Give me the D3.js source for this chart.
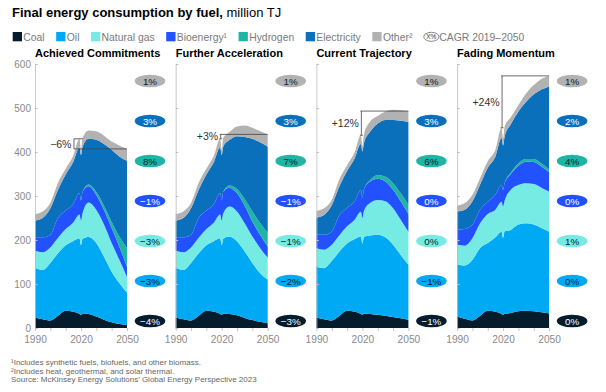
<!DOCTYPE html>
<html><head><meta charset="utf-8">
<script src="https://cdn.jsdelivr.net/npm/d3@7"></script>
<style>
body{margin:0;background:#fff}
svg{font-family:"Liberation Sans",Arial,sans-serif;display:block}
</style>
</head><body>
<svg id="chart" width="606" height="392"></svg>
<script>
// ---------- data ----------
const years = [1990,1995,2000,2005,2010,2015,2019,2020,2021,2025,2030,2035,2040,2045,2050];
const scenarios = ["Achieved Commitments","Further Acceleration","Current Trajectory","Fading Momentum"];
const fuels = ["Coal","Oil","Natural gas","Bioenergy¹","Hydrogen","Electricity","Other²"];
const fuelColors = ["#051c2c","#00a9f4","#76ebe3","#2251ff","#1fb5a4","#0b70bc","#b2b2b2"];
const badgeText = ["#ffffff","#051c2c","#051c2c","#ffffff","#051c2c","#ffffff","#051c2c"];

// million TJ, one row per scenario (same order as scenarios)
const coal = [
  [24,20,17,28,39,37,32,30,33,32,26,19,13,9,7],
  [24,20,17,28,39,37,32,30,33,32,29,23,18,14,11],
  [24,20,17,28,39,37,32,30,33,32,30,28,25,22,19],
  [26,21,17,28,39,37,32,30,33,34,38,39,38,36,33]];
const oil = [
  [113,112,131,142,149,161,172,158,170,175,167,143,115,93,73],
  [113,112,131,142,149,161,172,158,170,176,168,151,130,111,99],
  [116,116,135,146,153,165,176,162,174,178,182,178,164,144,125],
  [119,121,138,154,154,169,187,175,187,189,197,199,197,191,186]];
const gas = [
  [39,40,35,35,37,42,54,56,57,78,75,73,65,53,36],
  [39,40,35,35,37,42,54,56,57,68,68,64,60,57,50],
  [42,42,37,37,39,44,56,58,59,74,79,82,83,80,75],
  [44,45,49,56,66,63,68,71,69,91,90,91,92,92,91]];
const bio = [
  [30,34,29,45,42,42,49,46,49,37,34,33,34,30,23],
  [30,34,29,45,42,42,49,46,49,43,41,40,34,30,25],
  [30,34,30,45,42,42,49,46,49,49,48,45,42,42,40],
  [34,38,31,31,28,34,38,38,40,36,44,49,50,48,44]];
const hydrogen = [
  [0,0,0,0,0,0,0,0,0,4,7,10,14,23,43],
  [0,0,0,0,0,0,0,0,0,5,10,15,23,27,31],
  [0,0,0,0,0,0,0,0,0,3,8,11,15,18,21],
  [0,0,0,0,0,0,0,0,0,3,5,6,7,7,7]];
const electricity = [
  [38,44,60,64,82,96,103,103,103,104,119,140,164,182,198],
  [38,44,60,64,82,96,103,103,103,103,120,141,165,183,196],
  [39,45,60,66,84,98,105,105,105,110,118,129,144,165,188],
  [42,44,53,57,77,87,107,101,106,110,118,130,147,168,188]];
const other = [
  [15,15,12,16,13,14,20,12,20,19,19,19,19,25,27],
  [15,15,12,16,13,14,20,12,20,18,22,26,25,26,28],
  [15,15,12,16,13,14,20,12,20,23,17,19,23,24,25],
  [13,15,15,15,15,15,23,15,23,16,15,19,21,24,24]];

// CAGR 2019-2050, per scenario, in fuel order (coal ... other)
const cagr = [
  ["−4%","−3%","−3%","−1%","8%","3%","1%"],
  ["−3%","−2%","−1%","−1%","7%","3%","1%"],
  ["−1%","−1%","0%","0%","6%","3%","1%"],
  ["0%","0%","1%","0%","4%","2%","1%"]];
const totalChange = ["−6%","+3%","+12%","+24%"];
const yTicks = [0,100,200,300,400,500,600];
const xLabelTicks = [1990,2020,2050];
const xMinorTicks = [1990,2000,2010,2020,2030,2040,2050];
const footnotes = [
  "¹Includes synthetic fuels, biofuels, and other biomass.",
  "²Includes heat, geothermal, and solar thermal.",
  "Source: McKinsey Energy Solutions’ Global Energy Perspective 2023"];

const series = [coal, oil, gas, bio, hydrogen, electricity, other];

// ---------- drawing ----------
const svg = d3.select("#chart");
const y = d3.scaleLinear().domain([0,600]).range([328,64]);
const badgeY = d3.scalePoint().domain(d3.range(fuels.length).reverse()).range([81,321]);

// title
const title = svg.append("text").attr("x",12).attr("y",16.5).attr("font-size",13).attr("fill","#000");
title.append("tspan").attr("font-weight","bold").text("Final energy consumption by fuel,");
title.append("tspan").text(" million TJ");

// legend
let lx = 12.7;
const leg = svg.append("g").attr("font-size",10.4).attr("fill","#7a7a7a");
fuels.forEach((f,k)=>{
  leg.append("rect").attr("x",lx).attr("y",32).attr("width",9.3).attr("height",9.3).attr("fill",fuelColors[k]);
  const t = leg.append("text").attr("x",lx+10.6).attr("y",40.6).text(f);
  lx += 10.6 + t.node().getComputedTextLength() + 11.5;
});
leg.append("ellipse").attr("cx",lx+7.5).attr("cy",36.8).attr("rx",7.6).attr("ry",4.5)
  .attr("fill","none").attr("stroke","#555").attr("stroke-width",0.7);
leg.append("text").attr("x",lx+7.5).attr("y",39.1).attr("text-anchor","middle")
  .attr("font-size",6.5).attr("fill","#333").text("X%");
leg.append("text").attr("x",lx+15.5).attr("y",40.6).text("CAGR 2019–2050");

scenarios.forEach((name,i)=>{
  const x0 = 35 + i*140.7;
  const x = d3.scaleLinear().domain([1990,2050]).range([x0, x0+92]);
  const g = svg.append("g");

  const rows = years.map((yr,j)=>{
    const r = {year: yr};
    series.forEach((s,k)=>{ r[fuels[k]] = s[i][j]; });
    return r;
  });
  const stacked = d3.stack().keys(fuels)(rows);
  const area = d3.area()
    .x(d=>x(d.data.year)).y0(d=>y(d[0])).y1(d=>y(d[1]))
    .curve(d3.curveMonotoneX);
  g.selectAll("path.layer").data(stacked).join("path")
    .attr("class","layer").attr("fill",(d,k)=>fuelColors[k]).attr("d",area);

  // y axis
  const ya = g.append("g").attr("transform",`translate(${x0},0)`)
    .call(d3.axisLeft(y).tickValues(yTicks).tickSize(-2.5).tickPadding(4)
      .tickFormat(i===0 ? d3.format("d") : ()=>""));
  ya.select(".domain").attr("stroke","#bdbdbd").attr("stroke-width",0.8);
  ya.selectAll(".tick line").attr("stroke","#bdbdbd");
  ya.selectAll("text").attr("font-size",10).attr("fill","#8a8a8a")
    .attr("font-family","Liberation Sans, Arial, sans-serif");

  // x axis
  const xa = g.append("g").attr("transform","translate(0,328)")
    .call(d3.axisBottom(x).tickValues(xMinorTicks).tickSize(3).tickPadding(4.5)
      .tickFormat(d=> xLabelTicks.includes(d) ? String(d) : ""));
  xa.select(".domain").remove();
  xa.selectAll(".tick line").attr("stroke","#c4c4c4");
  xa.selectAll("text").attr("font-size",10.2).attr("fill","#8a8a8a")
    .attr("font-family","Liberation Sans, Arial, sans-serif");

  // panel title
  g.append("text").attr("x",x0).attr("y",57).attr("font-size",11)
    .attr("font-weight","bold").attr("fill","#000").text(name);

  // change bracket 2019 -> 2050
  const total = yr => d3.sum(series, s => s[i][years.indexOf(yr)]);
  const v0 = total(2019), v1 = total(2050);
  const br = g.append("g").attr("stroke","#444").attr("stroke-width",0.8).attr("fill","none");
  let xb;
  if (v1 >= v0) {
    xb = x(2019) + 0.5;
    br.append("line").attr("x1",xb).attr("x2",xb).attr("y1",y(v0)).attr("y2",y(v1));
    br.append("line").attr("x1",xb-1).attr("x2",x(2050)).attr("y1",y(v1)).attr("y2",y(v1));
    br.append("line").attr("x1",xb-1.5).attr("x2",xb+1.5).attr("y1",y(v0)).attr("y2",y(v0));
  } else {
    xb = x(2019) - 5.5;
    br.append("line").attr("x1",xb).attr("x2",xb).attr("y1",y(v0)).attr("y2",y(v1));
    br.append("line").attr("x1",xb).attr("x2",x(2019)+3.5).attr("y1",y(v0)).attr("y2",y(v0));
    br.append("line").attr("x1",xb).attr("x2",x(2050)).attr("y1",y(v1)).attr("y2",y(v1));
  }
  g.append("text").attr("x",xb-2.5).attr("y",(y(v0)+y(v1))/2).attr("dy","0.35em")
    .attr("text-anchor","end").attr("font-size",10.5).attr("fill","#333").text(totalChange[i]);

  // CAGR badges
  const bx = x0 + 115;
  fuels.forEach((f,k)=>{
    g.append("ellipse").attr("cx",bx).attr("cy",badgeY(k)).attr("rx",15.3).attr("ry",6.3)
      .attr("fill",fuelColors[k]);
    g.append("text").attr("x",bx).attr("y",badgeY(k)).attr("dy","0.36em")
      .attr("text-anchor","middle").attr("font-size",9.8).attr("fill",badgeText[k])
      .text(cagr[i][k]);
  });
});

// footnotes
svg.append("g").attr("font-size",8).attr("fill","#666")
  .selectAll("text").data(footnotes).join("text")
  .attr("x",11).attr("y",(d,j)=>365 + j*8.5).text(d=>d);
</script>
</body></html>
